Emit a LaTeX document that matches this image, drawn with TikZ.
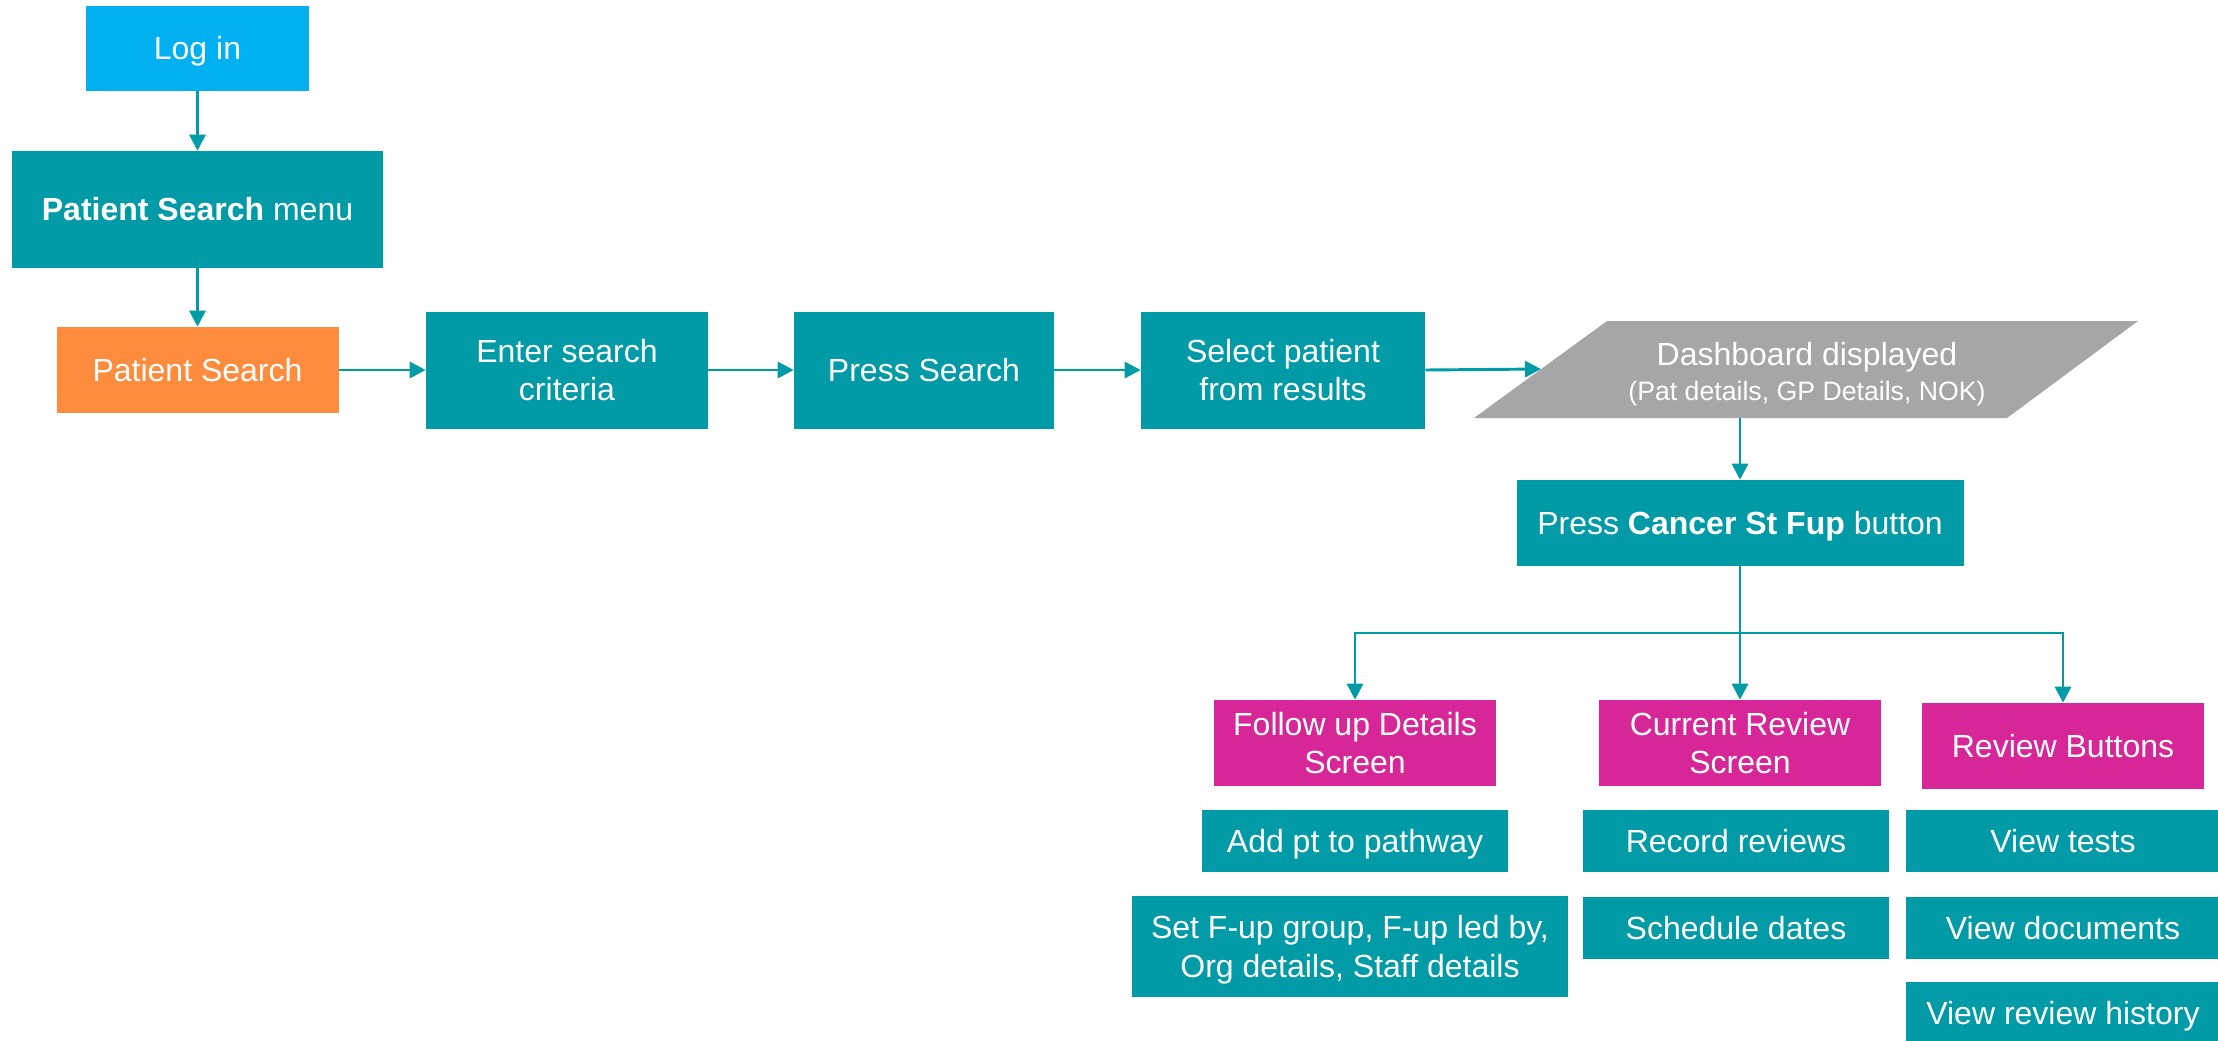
\documentclass[tikz,border=0pt]{standalone}
\usepackage{fontspec}
\setmainfont{Liberation Sans}
\usetikzlibrary{arrows.meta}
\definecolor{teal1}{HTML}{009BA6}
\definecolor{sky1}{HTML}{00B0F0}
\definecolor{orange1}{HTML}{FF8B3D}
\definecolor{magenta1}{HTML}{D62698}
\definecolor{grey1}{HTML}{A6A6A6}
\begin{document}
\begin{tikzpicture}[x=0.75pt, y=-0.75pt,
  box/.style 2 args={rectangle, inner sep=0pt, text=white, align=center,
    minimum width=#1*0.75pt, minimum height=#2*0.75pt,
    font=\fontsize{24}{29}\selectfont, text height=17.2pt, text depth=0pt},
  twolines/.style={text height=46.2pt},
  tealbox/.style={fill=teal1},
  screen/.style={fill=magenta1},
  link/.style={draw=teal1, line width=2.2pt},
  arr/.style={link, -{Triangle[length=12pt, width=12pt]}}]
\useasboundingbox (0,0) rectangle (2218,1040);

% entry column
\node[box={223}{85}, fill=sky1] (login) at (197.5,48.5) {Log in};
\node[box={371}{117}, tealbox] (menu) at (197.5,209.5) {\textbf{Patient Search} menu};
\node[box={282}{86}, fill=orange1] (psearch) at (197.5,370) {Patient Search};

% search row
\node[box={282}{117}, tealbox, twolines] (enter) at (567,370) {Enter search\\criteria};
\node[box={260}{117}, tealbox] (press) at (924,370) {Press Search};
\node[box={284}{117}, tealbox, twolines] (select) at (1283,370) {Select patient\\from results};

% dashboard (parallelogram)
\fill[grey1] (1607,321) -- (2138,321) -- (2007,418) -- (1474,418) -- cycle;
\node[text=white, align=center, inner sep=0pt, font=\fontsize{24}{26}\selectfont,
  text height=43.2pt, text depth=0pt] (dash) at (1807,371.5)
  {Dashboard displayed\\{\fontsize{20}{26}\selectfont (Pat details, GP Details, NOK)}};
\coordinate (dashin) at (1541,369);
\coordinate (dashout) at (1740,418);

\node[box={447}{86}, tealbox] (cancer) at (1740,523) {Press \textbf{Cancer St Fup} button};
\coordinate (jn) at (1740,633);

% screens
\node[box={282}{86}, screen, twolines] (follow) at (1355,743) {Follow up Details\\Screen};
\node[box={282}{86}, screen, twolines] (current) at (1740,743) {Current Review\\Screen};
\node[box={282}{86}, screen] (revbtn) at (2063,746) {Review Buttons};

% screen functions
\node[box={306}{62}, tealbox] (addpt) at (1355,841) {Add pt to pathway};
\node[box={436}{101}, tealbox, twolines] (setf) at (1350,946.5) {Set F-up group, F-up led by,\\Org details, Staff details};
\node[box={306}{62}, tealbox] (record) at (1736,841) {Record reviews};
\node[box={306}{62}, tealbox] (sched) at (1736,928) {Schedule dates};
\node[box={314}{62}, tealbox] (vtests) at (2063,841) {View tests};
\node[box={314}{62}, tealbox] (vdocs) at (2063,928) {View documents};
\node[box={314}{62}, tealbox] (vhist) at (2063,1013) {View review history};

% connectors
\draw[arr] (login.south) -- (menu.north);
\draw[arr] (menu.south) -- (psearch.north);
\draw[arr] (psearch.east) -- (enter.west);
\draw[arr] (enter.east) -- (press.west);
\draw[arr] (press.east) -- (select.west);
\draw[arr] (select.east) -- (dashin);
\draw[arr] (dashout) -- (cancer.north);
\draw[link] (cancer.south) -- (jn);
\draw[arr] (jn) -| (follow.north);
\draw[arr] (jn) -- (current.north);
\draw[arr] (jn) -| (revbtn.north);
\end{tikzpicture}
\end{document}
